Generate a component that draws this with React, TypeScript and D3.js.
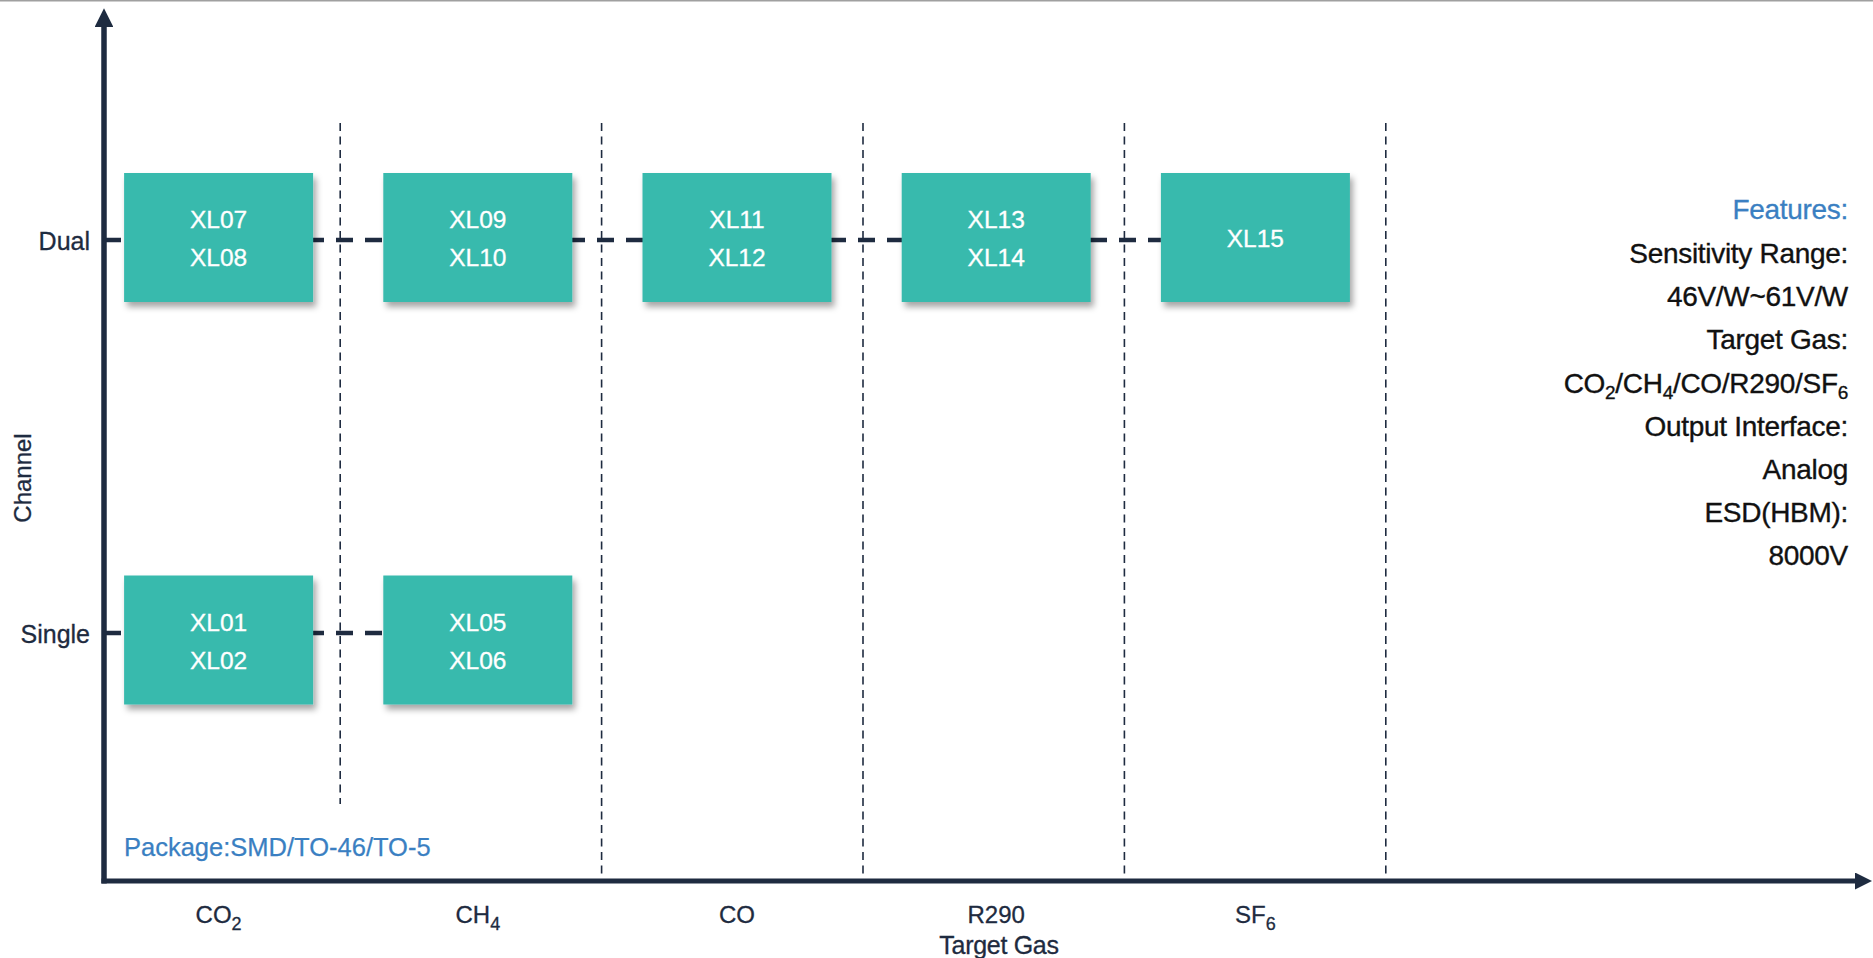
import React from 'react';
import * as d3 from 'd3';

const W = 1873;
const H = 958;

const gases = ['CO2', 'CH4', 'CO', 'R290', 'SF6'];
const gasMain = ['CO', 'CH', 'CO', 'R290', 'SF'];
const gasSub = ['2', '4', '', '', '6'];
const channels = ['Dual', 'Single'];

const productGas = ['CO2', 'CH4', 'CO', 'R290', 'SF6', 'CO2', 'CH4'];
const productChannel = ['Dual', 'Dual', 'Dual', 'Dual', 'Dual', 'Single', 'Single'];
const productModels = [
  ['XL07', 'XL08'],
  ['XL09', 'XL10'],
  ['XL11', 'XL12'],
  ['XL13', 'XL14'],
  ['XL15'],
  ['XL01', 'XL02'],
  ['XL05', 'XL06'],
];

const featureLines = [
  'Sensitivity Range:',
  '46V/W~61V/W',
  'Target Gas:',
  'GASLIST',
  'Output Interface:',
  'Analog',
  'ESD(HBM):',
  '8000V',
];

const packageText = 'Package:SMD/TO-46/TO-5';

const AXIS = '#1e2b40';
const TEAL = '#39baad';
const BLUE = '#3a7fc2';
const FONT = '"Liberation Sans", Arial, Helvetica, sans-serif';

export default function App() {
  const x0 = 104;
  const yAxisBottom = 881;
  const x = d3.scaleBand<string>().domain(gases).range([89, 89 + 5 * 259.2]).paddingInner(0).paddingOuter(0);
  const sepX = d3.scaleBand<string>().domain(gases).range([78.8, 78.8 + 5 * 261.4]);
  const y = d3.scalePoint<string>().domain(channels).range([240, 633]);
  const boxOffset: Record<string, number> = { Dual: -2.5, Single: 7 };
  const boxW = 189;
  const boxH = 129;
  const cx = (g: string) => (x(g) as number) + x.bandwidth() / 2;

  const lastIdx = (ch: string) => {
    let m = -1;
    productGas.forEach((g, i) => {
      if (productChannel[i] === ch) m = Math.max(m, gases.indexOf(g));
    });
    return m;
  };

  return (
    <svg width={W} height={H} style={{ position: 'absolute', left: 0, top: 0, display: 'block' }} fontFamily={FONT}>
      <defs>
        <filter id="sh" x="-20%" y="-20%" width="150%" height="160%">
          <feDropShadow dx="3" dy="5" stdDeviation="3" floodColor="#000" floodOpacity="0.35" />
        </filter>
        <marker id="arr" viewBox="0 0 10 10" refX="0" refY="5" markerWidth="3.4" markerHeight="3.4" orient="auto" markerUnits="strokeWidth">
          <path d="M0,0 L10,5 L0,10 z" fill={AXIS} />
        </marker>
      </defs>
      <rect x={0} y={0} width={W} height={H} fill="#fff" />
      <line x1={0} x2={W} y1={0.75} y2={0.75} stroke="#a0a0a0" strokeWidth={1.5} />

      {/* vertical dashed separators */}
      {gases.map((g, i) => {
        const xx = (sepX(g) as number) + sepX.bandwidth();
        return (
          <line key={g} x1={xx} x2={xx} y1={123} y2={i === 0 ? 804 : yAxisBottom}
            stroke={AXIS} strokeWidth={1.6} strokeDasharray="8,5.5" />
        );
      })}

      {/* horizontal dashed connectors */}
      {channels.map((ch) => {
        const li = lastIdx(ch);
        const xe = cx(gases[li]) - boxW / 2;
        return (
          <line key={ch} x1={x0} x2={xe} y1={y(ch)} y2={y(ch)} stroke={AXIS} strokeWidth={4.5} strokeDasharray="17,12" />
        );
      })}

      {/* boxes */}
      {productGas.map((g, i) => {
        const c = cx(g);
        const ch = productChannel[i];
        const yc = (y(ch) as number) + boxOffset[ch];
        const models = productModels[i];
        return (
          <g key={i}>
            <rect x={c - boxW / 2} y={yc - boxH / 2} width={boxW} height={boxH} fill={TEAL} filter="url(#sh)" />
            {models.map((m, k) => (
              <text key={m} x={c} y={yc + 1 + (k - (models.length - 1) / 2) * 38} fill="#fff" fontSize={24.5}
                textAnchor="middle" dominantBaseline="central" stroke="#fff" strokeWidth={0.3}>{m}</text>
            ))}
          </g>
        );
      })}

      {/* axes */}
      <line x1={x0} x2={x0} y1={yAxisBottom + 2.5} y2={27} stroke={AXIS} strokeWidth={5.5} markerEnd="url(#arr)" />
      <line x1={x0 - 2.5} x2={1855} y1={yAxisBottom} y2={yAxisBottom} stroke={AXIS} strokeWidth={5} markerEnd="url(#arr)" />

      {/* y tick labels */}
      <g stroke={AXIS} strokeWidth={0.3}>
        {channels.map((ch) => (
          <text key={ch} x={90} y={(y(ch) as number) + 1} textAnchor="end" dominantBaseline="central" fontSize={25} fill={AXIS}>{ch}</text>
        ))}
        <text transform={`translate(22,478) rotate(-90)`} textAnchor="middle" dominantBaseline="central" fontSize={24} fill={AXIS}>Channel</text>

        {/* x tick labels */}
        {gases.map((g, i) => (
          <text key={g} x={cx(g)} y={923} textAnchor="middle" fontSize={24} fill={AXIS}>
            {gasMain[i]}
            {gasSub[i] && <tspan fontSize={18} dy={7}>{gasSub[i]}</tspan>}
          </text>
        ))}
        <text x={999} y={954} textAnchor="middle" fontSize={25} fill={AXIS} letterSpacing={-0.3}>Target Gas</text>
      </g>

      {/* package note */}
      <text x={124} y={856} fontSize={25.5} fill={BLUE} stroke={BLUE} strokeWidth={0.25}>{packageText}</text>

      {/* features */}
      <text x={1848} y={219} textAnchor="end" fontSize={28} fill={BLUE} stroke={BLUE} strokeWidth={0.3} letterSpacing={-0.3}>Features:</text>
      {featureLines.map((t, i) => (
        <text key={i} x={1848} y={263 + i * 43.2} textAnchor="end" fontSize={28} fill="#111" stroke="#111" strokeWidth={0.35} letterSpacing={-0.3}>
          {t === 'GASLIST' ? (
            <>
              {'CO'}<tspan fontSize={19} dy={6}>2</tspan>
              <tspan dy={-6}>/CH</tspan><tspan fontSize={19} dy={6}>4</tspan>
              <tspan dy={-6}>/CO/R290/SF</tspan><tspan fontSize={19} dy={6}>6</tspan>
            </>
          ) : t}
        </text>
      ))}
    </svg>
  );
}
